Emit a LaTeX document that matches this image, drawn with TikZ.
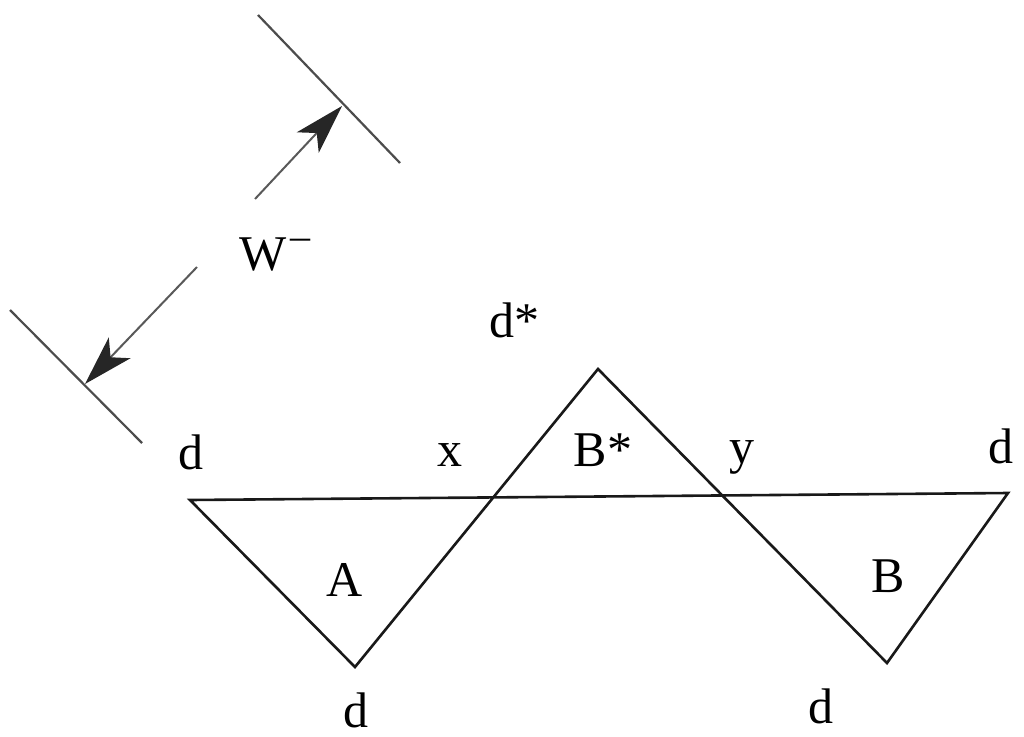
\documentclass[tikz,border=0pt]{standalone}
\usepackage{fontspec}
\setmainfont{Liberation Serif}
\usetikzlibrary{arrows.meta}
\begin{document}
\begin{tikzpicture}[x=1pt,y=-1pt,
  edge/.style={line width=2.6pt,line join=miter,black!90},
  ext/.style={line width=2.2pt,black!70},
  dim/.style={line width=2pt,black!65,-{Stealth[length=50pt,width=30pt,inset=13pt,color=black!85]}},
  lbl/.style={font=\fontsize{50}{50}\selectfont,inner sep=0pt}]
\useasboundingbox (0,0) rectangle (1024,736);
% vertices
\coordinate (L) at (190,500);
\coordinate (R) at (1008,493);
\coordinate (Abot) at (355,667);
\coordinate (Top) at (598,369);
\coordinate (Bbot) at (887,663);
% triangle lines
\draw[edge] (L) -- (R) -- (Bbot) -- (Top) -- (Abot) -- cycle;
% dimension extension lines
\coordinate (e1a) at (258,15);
\coordinate (e1b) at (400,163);
\coordinate (e2a) at (10,310);
\coordinate (e2b) at (142,443);
\draw[ext] (e1a) -- (e1b);
\draw[ext] (e2a) -- (e2b);
\coordinate (t1) at (255,199);
\coordinate (h1) at (342,106);
\coordinate (t2) at (197,267);
\coordinate (h2) at (85,384);
\draw[dim] (t1) -- (h1);
\draw[dim] (t2) -- (h2);
% labels
\node[lbl] (W) at (275,255) {W\hspace{4pt}\raisebox{0.42em}{\fontsize{40}{40}\selectfont –}};
\node[lbl] (ds) at (514,320) {d*};
\node[lbl] (dL) at (191,452) {d};
\node[lbl] (x) at (450,455) {x};
\node[lbl] (Bs) at (603,450) {B*};
\node[lbl] (y) at (742,457) {y};
\node[lbl] (dR) at (1001,446) {d};
\node[lbl] (A) at (345,580) {A};
\node[lbl] (B) at (888,576) {B};
\node[lbl] (dA) at (356,710) {d};
\node[lbl] (dB) at (821,706) {d};
\end{tikzpicture}
\end{document}
